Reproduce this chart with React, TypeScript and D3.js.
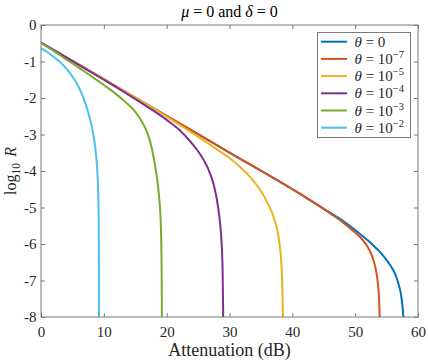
import { useEffect, useRef } from 'react';
import * as d3 from 'd3';

// [attenuation dB, log10 R]
const theta0: [number, number][] = [
  [0, -0.48], [10, -1.485], [20, -2.49], [30, -3.495], [40, -4.5], [42, -4.71], [44, -4.93],
  [46, -5.14], [48, -5.36], [50, -5.62], [52, -5.9], [53, -6.06], [54, -6.23], [55, -6.44],
  [56, -6.7], [56.5, -6.88], [57, -7.16], [57.3, -7.39], [57.5, -7.66], [57.68, -8],
];
const theta1e7: [number, number][] = [
  [0, -0.48], [10, -1.485], [20, -2.49], [30, -3.495], [40, -4.5], [42, -4.71], [44, -4.93],
  [46, -5.16], [48, -5.4], [49, -5.54], [50, -5.685], [51, -5.85], [52, -6.08], [52.5, -6.25],
  [53, -6.49], [53.4, -6.81], [53.65, -7.14], [53.8, -7.5], [53.9, -8],
];
const theta1e5: [number, number][] = [
  [0, -0.48], [10, -1.49], [20, -2.51], [24, -2.95], [27, -3.29], [30, -3.645], [32, -3.94],
  [33.5, -4.21], [35, -4.55], [36, -4.86], [37, -5.25], [37.6, -5.61], [38, -6.05],
  [38.25, -6.52], [38.4, -7.14], [38.5, -8],
];
const theta1e4: [number, number][] = [
  [0, -0.48], [5, -0.99], [10, -1.5], [14, -1.92], [17, -2.25], [20, -2.6], [22, -2.87],
  [24, -3.24], [25, -3.46], [26, -3.73], [27, -4.11], [27.6, -4.45], [28, -4.79],
  [28.4, -5.28], [28.7, -5.86], [28.9, -6.68], [29.0, -8],
];
const theta1e3: [number, number][] = [
  [0, -0.49], [2, -0.71], [4, -0.94], [6, -1.17], [8, -1.4], [10, -1.645], [12, -1.9],
  [13.5, -2.12], [15, -2.38], [16, -2.63], [17, -2.99], [17.6, -3.35], [18.1, -3.8],
  [18.5, -4.24], [18.8, -4.72], [19.0, -5.19], [19.12, -5.8], [19.2, -6.71], [19.24, -8],
];
const theta1e2: [number, number][] = [
  [0, -0.63], [1, -0.74], [2, -0.87], [3, -1.01], [4, -1.19], [5, -1.41], [6, -1.7],
  [7, -2.11], [7.5, -2.39], [8, -2.71], [8.4, -3.07], [8.7, -3.45], [8.95, -3.98],
  [9.1, -4.54], [9.18, -5.3], [9.22, -6.41], [9.24, -8],
];

const seriesData = [theta0, theta1e7, theta1e5, theta1e4, theta1e3, theta1e2];
const seriesExp = [null, '7', '5', '4', '3', '2'];
const seriesColors = ['#0072BD', '#D95319', '#EDB120', '#7E2F8E', '#77AC30', '#4DBEEE'];

const xTicks = [0, 10, 20, 30, 40, 50, 60];
const yTicks = [0, -1, -2, -3, -4, -5, -6, -7, -8];

const FONT = "'Liberation Serif', 'Times New Roman', 'DejaVu Serif', serif";

function App() {
  const svgRef = useRef<SVGSVGElement>(null);

  useEffect(() => {
    const W = 428;
    const H = 363;
    const m = { top: 25, right: 10, bottom: 46, left: 41 };
    const width = W - m.left - m.right;
    const height = H - m.top - m.bottom;

    const root = d3.select(svgRef.current);
    root.selectAll('*').remove();
    root
      .attr('width', W)
      .attr('height', H)
      .attr('viewBox', `0 0 ${W} ${H}`)
      .style('font-family', FONT);
    root.append('rect').attr('width', W).attr('height', H).attr('fill', '#fff');

    const svg = root.append('g').attr('transform', `translate(${m.left},${m.top})`);

    const x = d3.scaleLinear().domain([0, 60]).range([0, width]);
    const y = d3.scaleLinear().domain([-8, 0]).range([height, 0]);

    const axisColor = '#7a7a7a';
    const textColor = '#262626';

    const styleAxis = (g: any) => {
      g.attr('font-family', null);
      g.select('.domain').remove();
      g.selectAll('.tick line').attr('stroke', axisColor);
      g.selectAll('.tick text')
        .attr('fill', textColor)
        .style('font-family', FONT)
        .attr('font-size', 15);
    };

    svg
      .append('g')
      .attr('transform', `translate(0,${height})`)
      .call(d3.axisBottom(x).tickValues(xTicks).tickSize(-4).tickSizeOuter(0).tickPadding(9))
      .call(styleAxis);
    svg
      .append('g')
      .call(d3.axisTop(x).tickValues(xTicks).tickSize(-4).tickSizeOuter(0).tickFormat(() => ''))
      .call(styleAxis);
    svg
      .append('g')
      .call(
        d3
          .axisLeft(y)
          .tickValues(yTicks)
          .tickSize(-4)
          .tickSizeOuter(0)
          .tickPadding(4.5)
          .tickFormat(d => String(d)),
      )
      .call(styleAxis);
    svg
      .append('g')
      .attr('transform', `translate(${width},0)`)
      .call(d3.axisRight(y).tickValues(yTicks).tickSize(-4).tickSizeOuter(0).tickFormat(() => ''))
      .call(styleAxis);

    svg
      .append('clipPath')
      .attr('id', 'plot-clip')
      .append('rect')
      .attr('x', 0)
      .attr('y', -2)
      .attr('width', width)
      .attr('height', height + 2);

    const line = d3
      .line<[number, number]>()
      .x(d => x(d[0]))
      .y(d => y(d[1]))
      .curve(d3.curveMonotoneX);

    seriesData.forEach((data, i) => {
      svg
        .append('path')
        .attr('d', line(data))
        .attr('fill', 'none')
        .attr('stroke', seriesColors[i])
        .attr('stroke-width', 2)
        .attr('clip-path', 'url(#plot-clip)');
    });

    // box
    svg
      .append('rect')
      .attr('x', 0)
      .attr('y', 0)
      .attr('width', width)
      .attr('height', height)
      .attr('fill', 'none')
      .attr('stroke', axisColor)
      .attr('stroke-width', 1);

    // legend
    const legend = svg.append('g').attr('transform', `translate(${317.5 - m.left},${32.5 - m.top})`);
    legend
      .append('rect')
      .attr('width', 93)
      .attr('height', 105)
      .attr('fill', '#fff')
      .attr('stroke', axisColor);
    seriesColors.forEach((c, i) => {
      const cy = 9.2 + i * 17.2;
      legend
        .append('line')
        .attr('x1', 3.5)
        .attr('x2', 29.5)
        .attr('y1', cy)
        .attr('y2', cy)
        .attr('stroke', c)
        .attr('stroke-width', 2);
      const t = legend
        .append('text')
        .attr('x', 37)
        .attr('y', cy + 5)
        .attr('font-size', 15)
        .attr('fill', textColor);
      t.append('tspan').attr('font-style', 'italic').text('θ');
      if (seriesExp[i] === null) {
        t.append('tspan').text(' = 0');
      } else {
        t.append('tspan').text(' = 10');
        t.append('tspan')
          .attr('font-size', 10.5)
          .attr('dy', -6)
          .text(`−${seriesExp[i]}`);
      }
    });

    // title
    const title = root
      .append('text')
      .attr('x', m.left + width / 2)
      .attr('y', 17)
      .attr('text-anchor', 'middle')
      .attr('font-size', 16)
      .attr('fill', '#000');
    title.append('tspan').attr('font-style', 'italic').text('μ');
    title.append('tspan').text(' = 0 and ');
    title.append('tspan').attr('font-style', 'italic').text('δ');
    title.append('tspan').text(' = 0');

    // x label
    root
      .append('text')
      .attr('x', m.left + width / 2)
      .attr('y', 356)
      .attr('text-anchor', 'middle')
      .attr('font-size', 18)
      .attr('fill', textColor)
      .text('Attenuation (dB)');

    // y label
    const yl = root
      .append('text')
      .attr('transform', `translate(15.5,${m.top + height / 2}) rotate(-90)`)
      .attr('text-anchor', 'middle')
      .attr('font-size', 16)
      .attr('fill', textColor);
    yl.append('tspan').text('log');
    yl.append('tspan').attr('font-size', 11.5).attr('dy', 4).text('10');
    yl.append('tspan').attr('dy', -4).text('\u2009\u2009');
    yl.append('tspan').attr('font-style', 'italic').text('R');
  }, []);

  return <svg ref={svgRef} style={{ position: 'absolute', left: 0, top: 0, display: 'block' }} />;
}

export default App;
